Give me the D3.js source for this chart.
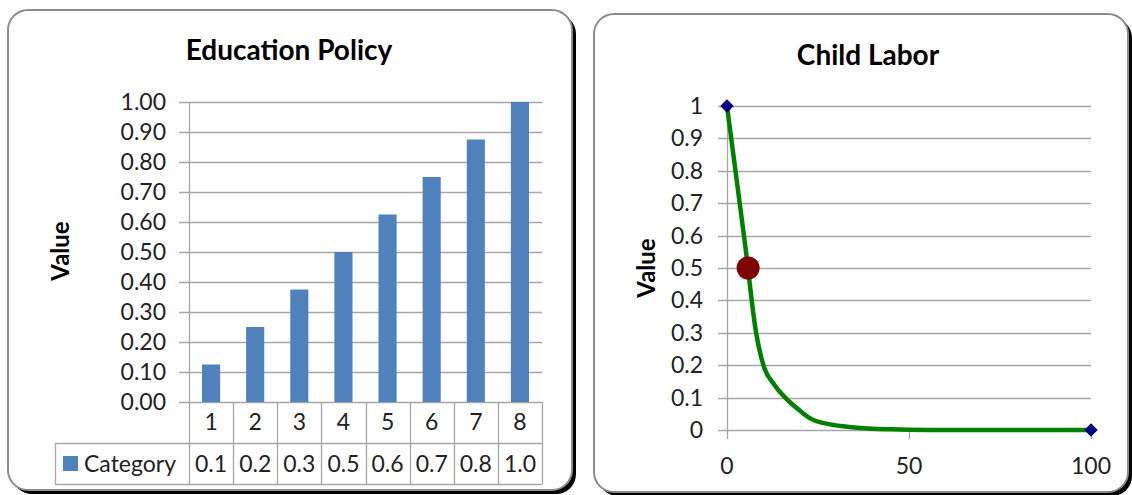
<!DOCTYPE html>
<html>
<head>
<meta charset="utf-8">
<script src="https://cdn.jsdelivr.net/npm/d3@7"></script>
<style>
  body { margin: 0; background: #fff; }
  svg { display: block; font-family: Lato, "Open Sans", sans-serif; }
</style>
</head>
<body>
<div id="chart"></div>
<script>
// education policy bars
const categories = ["1", "2", "3", "4", "5", "6", "7", "8"];
const barValues = [0.125, 0.25, 0.375, 0.5, 0.625, 0.75, 0.875, 1.0];
const tableLabels = ["0.1", "0.2", "0.3", "0.5", "0.6", "0.7", "0.8", "1.0"];
const barTicks = [0, 0.1, 0.2, 0.3, 0.4, 0.5, 0.6, 0.7, 0.8, 0.9, 1.0];

// child labor curve
const curveX = [0, 5, 8, 10, 13, 16, 20, 23, 28, 35, 45, 55, 70, 85, 100];
const curveY = [1, 0.57, 0.3, 0.2, 0.14, 0.1, 0.06, 0.035, 0.018, 0.008, 0.002, 0, 0, 0, 0];
const endPoints = [[0, 1], [100, 0]];
const marker = [5.8, 0.5];
const lineTicksY = [0, 0.1, 0.2, 0.3, 0.4, 0.5, 0.6, 0.7, 0.8, 0.9, 1];
const lineTicksX = [0, 50, 100];

let W = 1132, H = 495;
let gridColor = "#a6a6a6";
let fs = 23; // tick / table font size

let svg = d3.select("#chart").append("svg")
    .attr("width", W)
    .attr("height", H);

// panels with shadow
function panel(x, y, w, h) {
    svg.append("rect")
        .attr("x", x + 4).attr("y", y + 4)
        .attr("width", w).attr("height", h)
        .attr("rx", 20)
        .attr("fill", "#000");
    svg.append("rect")
        .attr("x", x).attr("y", y)
        .attr("width", w).attr("height", h)
        .attr("rx", 20)
        .attr("fill", "#fff")
        .attr("stroke", "#8c8c8c")
        .attr("stroke-width", 2);
}
panel(8, 10, 564, 480);
panel(594, 14, 534, 478);

// ---------- left: Education Policy ----------
let x = d3.scaleBand()
    .domain(categories)
    .range([189, 542])
    .paddingInner(0.59)
    .paddingOuter(0.295);

let y = d3.scaleLinear()
    .domain([0, 1])
    .range([402, 102]);

svg.append("text")
    .attr("x", 289).attr("y", 60)
    .attr("text-anchor", "middle")
    .attr("font-weight", "bold")
    .attr("font-size", 28)
    .text("Education Policy");

let gl = svg.append("g");

// gridlines
gl.selectAll(".grid")
    .data(barTicks)
    .join("line")
    .attr("x1", 179).attr("x2", 542)
    .attr("y1", d => Math.round(y(d)) + 0.5)
    .attr("y2", d => Math.round(y(d)) + 0.5)
    .attr("stroke", gridColor)
    .attr("stroke-width", 1.3);

gl.append("line")
    .attr("x1", 189.5).attr("x2", 189.5)
    .attr("y1", 102).attr("y2", 484)
    .attr("stroke", gridColor)
    .attr("stroke-width", 1.3);

gl.selectAll(".ylab")
    .data(barTicks)
    .join("text")
    .attr("x", 166)
    .attr("y", d => y(d))
    .attr("dy", "0.35em")
    .attr("text-anchor", "end")
    .attr("font-size", fs)
    .attr("fill", "#222")
    .text(d => d.toFixed(2));

gl.selectAll(".bar")
    .data(barValues)
    .join("rect")
    .attr("x", (d, i) => x(categories[i]))
    .attr("width", x.bandwidth())
    .attr("y", d => y(d))
    .attr("height", d => y(0) - y(d))
    .attr("fill", "#4f81bd");

gl.append("text")
    .attr("transform", "translate(69,251) rotate(-90)")
    .attr("text-anchor", "middle")
    .attr("font-weight", "bold")
    .attr("font-size", 24)
    .text("Value");

// data table
let step = x.step();
let tbl = gl.append("g").attr("stroke", gridColor).attr("stroke-width", 1.3);
categories.forEach((c, i) => {
    let cx = 189 + step * (i + 1);
    tbl.append("line")
        .attr("x1", Math.round(cx) + 0.5).attr("x2", Math.round(cx) + 0.5)
        .attr("y1", 402).attr("y2", 484);
});
tbl.append("line").attr("x1", 55).attr("x2", 542).attr("y1", 443.5).attr("y2", 443.5);
tbl.append("line").attr("x1", 55).attr("x2", 542).attr("y1", 484.5).attr("y2", 484.5);
tbl.append("line").attr("x1", 55.5).attr("x2", 55.5).attr("y1", 443).attr("y2", 484);

gl.selectAll(".cat")
    .data(categories)
    .join("text")
    .attr("x", d => x(d) + x.bandwidth() / 2)
    .attr("y", 422)
    .attr("dy", "0.35em")
    .attr("text-anchor", "middle")
    .attr("font-size", fs)
    .attr("fill", "#222")
    .text(d => d);

gl.selectAll(".val")
    .data(tableLabels)
    .join("text")
    .attr("x", (d, i) => x(categories[i]) + x.bandwidth() / 2)
    .attr("y", 464)
    .attr("dy", "0.35em")
    .attr("text-anchor", "middle")
    .attr("font-size", fs)
    .attr("fill", "#222")
    .text(d => d);

gl.append("rect")
    .attr("x", 63).attr("y", 456)
    .attr("width", 15).attr("height", 15)
    .attr("fill", "#4f81bd");
gl.append("text")
    .attr("x", 84).attr("y", 464)
    .attr("dy", "0.35em")
    .attr("font-size", fs)
    .attr("fill", "#222")
    .text("Category");

// ---------- right: Child Labor ----------
let x2 = d3.scaleLinear().domain([0, 100]).range([727, 1091]);
let y2 = d3.scaleLinear().domain([0, 1]).range([430, 106]);

svg.append("text")
    .attr("x", 868).attr("y", 65)
    .attr("text-anchor", "middle")
    .attr("font-weight", "bold")
    .attr("font-size", 28)
    .text("Child Labor");

let gr = svg.append("g");

gr.selectAll(".grid")
    .data(lineTicksY)
    .join("line")
    .attr("x1", 718).attr("x2", 1091)
    .attr("y1", d => Math.round(y2(d)) + 0.5)
    .attr("y2", d => Math.round(y2(d)) + 0.5)
    .attr("stroke", gridColor)
    .attr("stroke-width", 1.3);

gr.append("line")
    .attr("x1", 727.5).attr("x2", 727.5)
    .attr("y1", 106).attr("y2", 439)
    .attr("stroke", gridColor)
    .attr("stroke-width", 1.3);

gr.selectAll(".xtick")
    .data(lineTicksX.slice(1))
    .join("line")
    .attr("x1", d => Math.round(x2(d)) + 0.5)
    .attr("x2", d => Math.round(x2(d)) + 0.5)
    .attr("y1", 430).attr("y2", 439)
    .attr("stroke", gridColor)
    .attr("stroke-width", 1.3);

gr.selectAll(".ylab")
    .data(lineTicksY)
    .join("text")
    .attr("x", 703)
    .attr("y", d => y2(d))
    .attr("dy", "0.35em")
    .attr("text-anchor", "end")
    .attr("font-size", fs)
    .attr("fill", "#222")
    .text(d => d3.format("~g")(d));

gr.selectAll(".xlab")
    .data(lineTicksX)
    .join("text")
    .attr("x", d => x2(d))
    .attr("y", 466)
    .attr("dy", "0.35em")
    .attr("text-anchor", "middle")
    .attr("font-size", fs)
    .attr("fill", "#222")
    .text(d => d);

gr.append("text")
    .attr("transform", "translate(655,268) rotate(-90)")
    .attr("text-anchor", "middle")
    .attr("font-weight", "bold")
    .attr("font-size", 24)
    .text("Value");

let line = d3.line()
    .curve(d3.curveMonotoneX)
    .x(d => x2(d[0]))
    .y(d => y2(d[1]));

gr.append("path")
    .datum(curveX.map((v, i) => [v, curveY[i]]))
    .attr("fill", "none")
    .attr("stroke", "#008000")
    .attr("stroke-width", 4.5)
    .attr("stroke-linejoin", "round")
    .attr("d", line);

gr.selectAll(".end")
    .data(endPoints)
    .join("path")
    .attr("transform", d => `translate(${x2(d[0])},${y2(d[1])}) rotate(45)`)
    .attr("d", d3.symbol(d3.symbolSquare, 90))
    .attr("fill", "#000080");

gr.append("circle")
    .attr("cx", x2(marker[0]))
    .attr("cy", y2(marker[1]))
    .attr("r", 11.5)
    .attr("fill", "#800000");
</script>
</body>
</html>
